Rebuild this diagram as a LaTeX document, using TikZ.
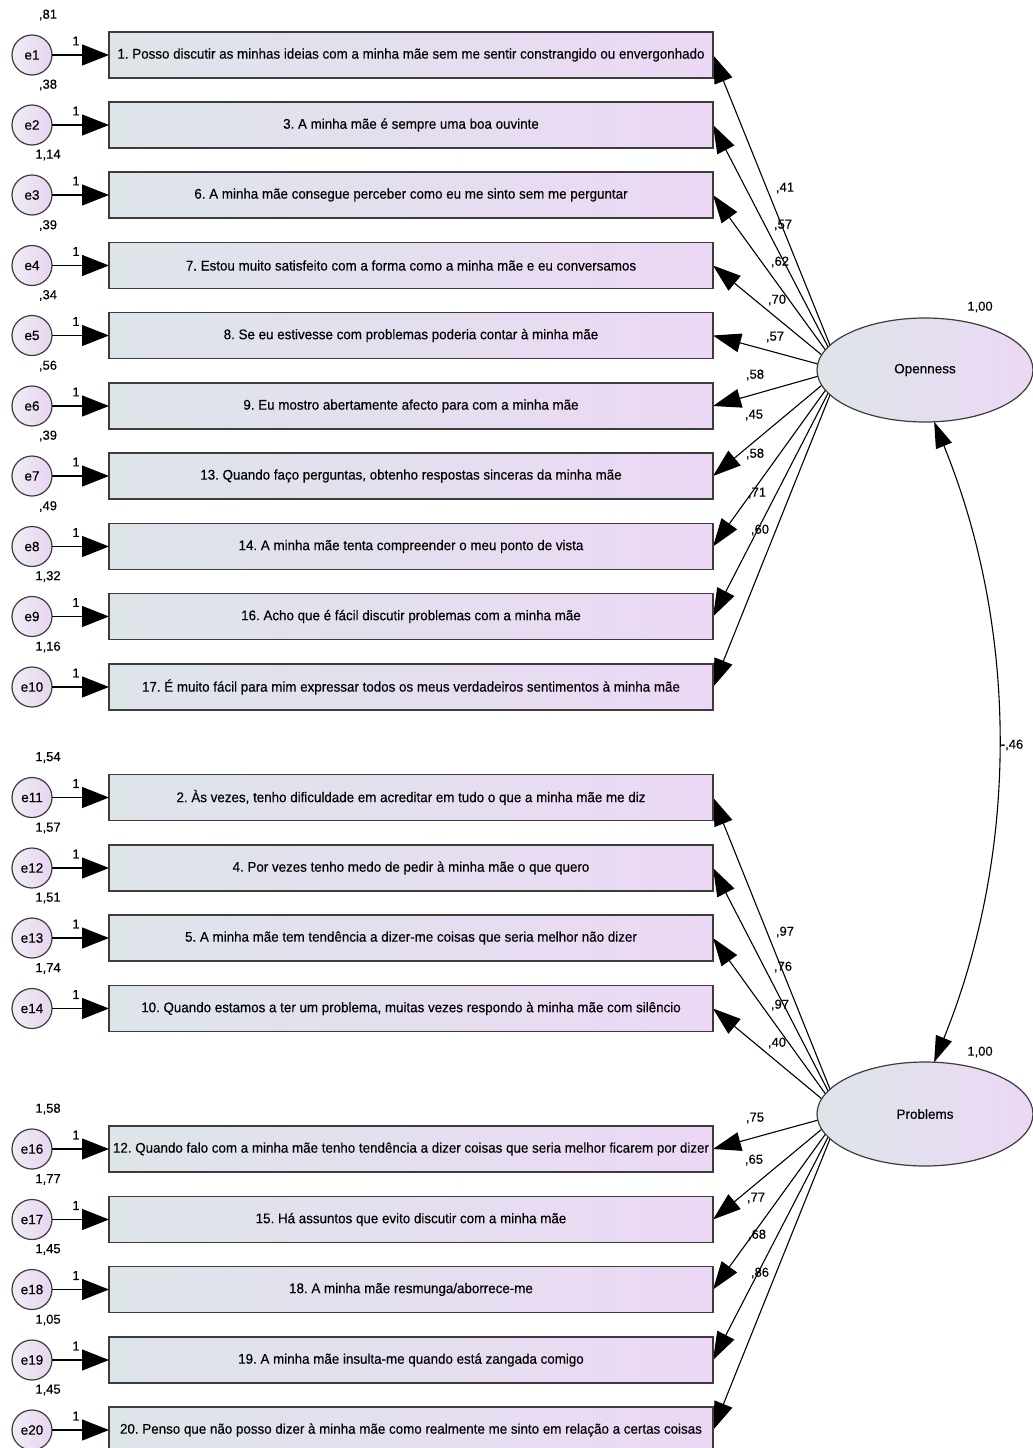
\documentclass[tikz,border=0pt]{standalone}
\usepackage{fontspec}
\setmainfont{Liberation Sans}
\newfontfamily\dfont{Liberation Sans}[FakeBold=0.3]
\usetikzlibrary{arrows.meta,shapes.geometric}
\pgfdeclarelayer{background}
\pgfsetlayers{background,main}
\definecolor{boxL}{RGB}{221,229,233}
\definecolor{boxR}{RGB}{236,216,245}
\definecolor{eL}{RGB}{240,236,245}
\definecolor{eR}{RGB}{232,212,242}
\definecolor{edge}{RGB}{60,60,60}
\newcommand{\boxtxt}[1]{\scalebox{0.955}[1]{#1}}
\frenchspacing
\begin{document}
\begin{tikzpicture}[x=1pt,y=-1pt,
  itembox/.style={draw=edge,line width=1.3pt,left color=boxL,right color=boxR,minimum width=604pt,minimum height=46pt,inner sep=0pt,outer sep=0pt,font=\dfont\fontsize{14}{16}\selectfont\frenchspacing},
  errc/.style={circle,draw=edge,line width=1.2pt,left color=eL,right color=eR,minimum size=40pt,inner sep=0pt,outer sep=0pt,font=\dfont\fontsize{13.5}{16}\selectfont},
  latent/.style={ellipse,draw=edge,line width=1.2pt,left color=boxL,right color=boxR,minimum width=216pt,minimum height=104pt,inner sep=0pt,outer sep=0pt,font=\dfont\fontsize{13.5}{16}\selectfont},
  lbl/.style={inner sep=0pt,font=\dfont\fontsize{13}{15}\selectfont},
  earr/.style={line width=1.3pt,-{Triangle[length=27pt,width=21pt]}},
  larr/.style={line width=1.1pt,-{Triangle[length=28pt,width=19pt]}},
  carr/.style={line width=1.1pt,{Triangle[length=26pt,width=17pt]}-{Triangle[length=26pt,width=17pt]}}
]
\path[use as bounding box] (0,0) rectangle (1033,1448);

\foreach \i/\y/\t/\v in {
 1/55/{1. Posso discutir as minhas ideias com a minha mãe sem me sentir constrangido ou envergonhado}/{,81},
 2/125/{3. A minha mãe é sempre uma boa ouvinte}/{,38},
 3/195/{6. A minha mãe consegue perceber como eu me sinto sem me perguntar}/{1,14},
 4/265.5/{7. Estou muito satisfeito com a forma como a minha mãe e eu conversamos}/{,39},
 5/335.5/{8. Se eu estivesse com problemas poderia contar à minha mãe}/{,34},
 6/406/{9. Eu mostro abertamente afecto para com a minha mãe}/{,56},
 7/476/{13. Quando faço perguntas, obtenho respostas sinceras da minha mãe}/{,39},
 8/546.5/{14. A minha mãe tenta compreender o meu ponto de vista}/{,49},
 9/616.5/{16. Acho que é fácil discutir problemas com a minha mãe}/{1,32},
 10/687/{17. É muito fácil para mim expressar todos os meus verdadeiros sentimentos à minha mãe}/{1,16},
 11/797.5/{2. Às vezes, tenho dificuldade em acreditar em tudo o que a minha mãe me diz}/{1,54},
 12/868/{4. Por vezes tenho medo de pedir à minha mãe o que quero}/{1,57},
 13/938/{5. A minha mãe tem tendência a dizer-me coisas que seria melhor não dizer}/{1,51},
 14/1008.5/{10. Quando estamos a ter um problema, muitas vezes respondo à minha mãe com silêncio}/{1,74},
 16/1149/{12. Quando falo com a minha mãe tenho tendência a dizer coisas que seria melhor ficarem por dizer}/{1,58},
 17/1219.5/{15. Há assuntos que evito discutir com a minha mãe}/{1,77},
 18/1289.5/{18. A minha mãe resmunga/aborrece-me}/{1,45},
 19/1360/{19. A minha mãe insulta-me quando está zangada comigo}/{1,05},
 20/1430/{20. Penso que não posso dizer à minha mãe como realmente me sinto em relação a certas coisas}/{1,45}} {
  \node[itembox] (b\i) at (411,\y) {\boxtxt{\t}};
  \node[errc] (e\i) at (32,\y) {e\i};
  \node[lbl] (v\i) at (48,\y-40) {\v};
  \node[lbl] (w\i) at (76,\y-14) {1};
  \draw[earr] (e\i) -- (b\i);
}

\node[latent] (open) at (925,370) {Openness};
\node[latent] (prob) at (925,1114) {Problems};
\node[lbl] (vo) at (980,307) {1,00};
\node[lbl] (vp) at (980,1052) {1,00};

\coordinate (ofoc) at (840,370);
\coordinate (pfoc) at (840,1114);

\begin{pgfonlayer}{background}
\foreach \i in {1,...,10} { \draw[larr] (ofoc) -- (b\i.east); }
\foreach \i in {11,12,13,14,16,17,18,19,20} { \draw[larr] (pfoc) -- (b\i.east); }
\end{pgfonlayer}

\foreach \n/\x/\y/\t in {
 o1/785/188/{,41}, o2/783/225/{,57}, o3/780/262/{,62}, o4/777/300/{,70}, o5/775/337/{,57},
 o6/755/375/{,58}, o7/754/415/{,45}, o8/755/454/{,58}, o9/757/493/{,71}, o10/760/530/{,60},
 p1/785/932/{,97}, p2/783/967/{,76}, p3/780/1005/{,97}, p4/777/1043/{,40},
 p5/755/1118/{,75}, p6/754/1160/{,65}, p7/756/1198/{,77}, p8/757/1235/{,68}, p9/760/1273/{,86}} {
  \node[lbl] (\n) at (\x,\y) {\t};
}

\draw[carr] (open.-80) .. controls (1019,630) and (1019,853) .. (prob.80);
\node[lbl] (cov) at (1012,745) {-,46};
\end{tikzpicture}
\end{document}
